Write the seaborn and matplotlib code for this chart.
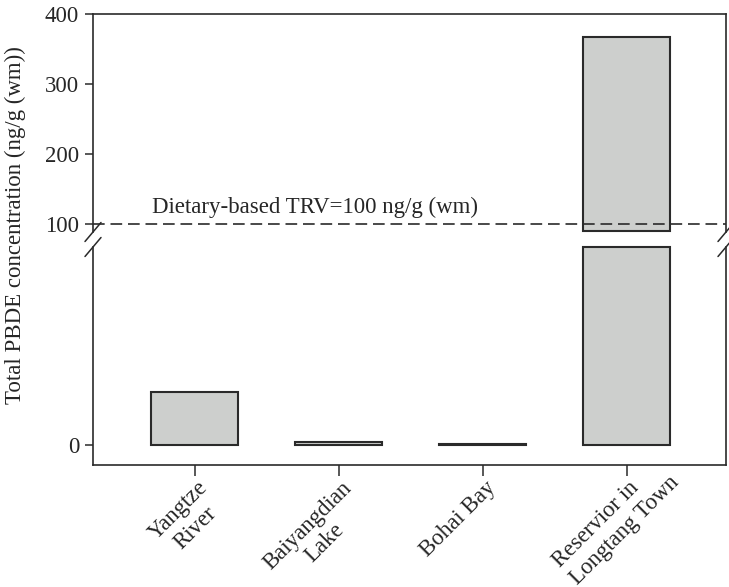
import numpy as np
import pandas as pd
import matplotlib.pyplot as plt
import matplotlib.transforms as mtransforms
import seaborn as sns

# data
sites = ["Yangtze\nRiver", "Baiyangdian\nLake", "Bohai Bay", "Reservior in\nLongtang Town"]
site_align = ["center", "center", "center", "left"]
pbde = [5.35, 0.35, 0.12, 367]
trv = 100
trv_label = "Dietary-based TRV=100 ng/g (wm)"
ylabel = "Total PBDE concentration (ng/g (wm))"

upper_ylim = (88.6, 400)
lower_ylim = (-2.02, 20)
upper_ticks = [100, 200, 300, 400]
lower_ticks = [0]

sns.set_theme(style="ticks")
plt.rcParams['font.family'] = ['Liberation Serif', 'DejaVu Serif']
FS = 16.5

df = pd.DataFrame({"site": sites, "pbde": pbde})

fig = plt.figure(figsize=(7.29, 5.87), dpi=100)
W, H = 729, 587
left, right = 93 / W, 726 / W
ax_top = fig.add_axes([left, 1 - 232 / H, right - left, (232 - 14) / H])
ax_bot = fig.add_axes([left, 1 - 465 / H, right - left, (465 - 247) / H])

for ax, ylim in [(ax_top, upper_ylim), (ax_bot, lower_ylim)]:
    sns.barplot(data=df, x="site", y="pbde", ax=ax, color="#cdcfcd",
                edgecolor="#2a2a2a", linewidth=1.5, width=0.6, saturation=1)
    ax.set_ylim(ylim)
    ax.set_xlim(-0.705, 3.69)
    lo, hi = ylim
    # trim bars to the visible segment so the break edges are drawn
    for p in ax.patches:
        y0, y1 = p.get_y(), p.get_y() + p.get_height()
        if y1 <= lo:
            p.set_visible(False)
            continue
        y0 = max(y0, lo + (hi - lo) * 0.003)
        y1 = min(y1, hi - (hi - lo) * 0.001)
        p.set_y(y0)
        p.set_height(y1 - y0)
        p.set_clip_on(False)
    ax.set_xlabel("")
    ax.set_ylabel("")
    for s in ax.spines.values():
        s.set_linewidth(1.2)
        s.set_color("#2a2a2a")
    ax.tick_params(axis="y", direction="out", length=6, width=1.1,
                   labelsize=FS, color="#2a2a2a", pad=4)

ax_top.set_yticks(upper_ticks)
ax_bot.set_yticks(lower_ticks)
ax_top.spines["bottom"].set_visible(False)
ax_top.tick_params(axis="x", bottom=False, labelbottom=False)
ax_bot.spines["top"].set_visible(False)

ax_top.axhline(trv, color="#2a2a2a", lw=1.2, ls=(0, (7, 3.5)))
ax_top.text(-0.298, 124, trv_label, fontsize=FS, ha="left", va="center")

fig.text(15 / W, 1 - 225 / H, ylabel, rotation=90, fontsize=FS,
         ha="center", va="center")

# break marks
def mark(ax, x, y, dx, dy):
    ax.plot([x - dx, x + dx], [y - dy, y + dy], transform=ax.transAxes,
            color="#2a2a2a", lw=1.1, clip_on=False)

dxt = 8 / (W * (right - left))
dyt = 9.5 / 218
mark(ax_top, 0, 0, dxt, dyt)
mark(ax_top, 1, 0, dxt, dyt)
mark(ax_bot, 0, 1, dxt, dyt)
mark(ax_bot, 1, 1, dxt, dyt)

ax_bot.set_xticks(range(len(sites)))
ax_bot.set_xticklabels(sites, rotation=45, ha="right", rotation_mode="anchor",
                       fontsize=FS)
ax_bot.tick_params(axis="x", direction="out", length=8, width=1.1,
                   color="#2a2a2a", pad=1)

# put the first line's right end at the anchor, like the original
renderer = fig.canvas.get_renderer()
c = np.cos(np.pi / 4)
for lab, al in zip(ax_bot.get_xticklabels(), site_align):
    lab.set_multialignment(al)
    txt = lab.get_text()
    t1 = fig.text(0, 0, txt.split("\n")[0], fontsize=FS)
    t2 = fig.text(0, 0, txt, fontsize=FS)
    d = t2.get_window_extent(renderer).width - t1.get_window_extent(renderer).width
    d = d / 2 if al == "center" else d
    t1.remove()
    t2.remove()
    off = mtransforms.ScaledTranslation((d * c + 2) / 100, (d * c) / 100,
                                        fig.dpi_scale_trans)
    lab.set_transform(lab.get_transform() + off)

fig.savefig("out.png", dpi=100)
